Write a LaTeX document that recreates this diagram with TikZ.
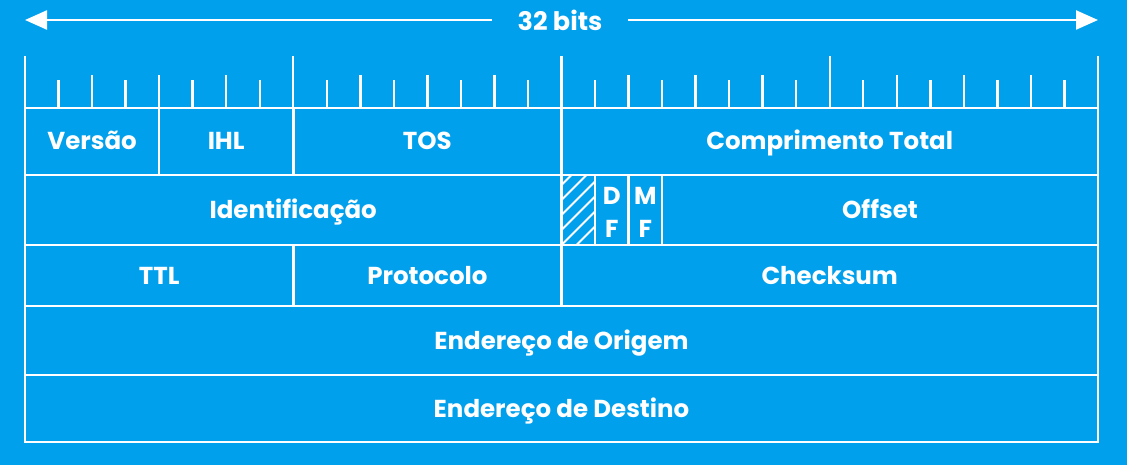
\documentclass[tikz,border=0pt]{standalone}
\usepackage{fontspec}
\setmainfont{Poppins}
\usetikzlibrary{positioning}
\usetikzlibrary{arrows.meta}
\usetikzlibrary{calc}
\definecolor{ipblue}{RGB}{0,160,237}

\begin{document}
\begin{tikzpicture}[x=1pt, y=-1pt, node distance=0pt,
    field/.style={draw=white, line width=2.6pt, inner sep=0pt, outer sep=0pt,
        minimum width=#1*33.53pt, text=white, align=center,
        text height=17pt, text depth=0pt,
        font=\bfseries\fontsize{24.5}{33}\selectfont},
    flag/.style={text height=54pt},
    tick/.style={draw=white, line width=2.4pt},
    span/.style={draw=white, line width=2.4pt, -{Triangle[length=22pt, width=19pt]}}]
    \useasboundingbox[fill=ipblue] (0,0) rectangle (1127,465);

    % width of the header
    \node[text=white, font=\bfseries\fontsize{25.5}{28}\selectfont, inner xsep=25pt] (bits) at (560,20) {32 bits};
    \coordinate (leftend) at (25,20);
    \coordinate (rightend) at (1098,20);
    \draw[span] (bits.west) -- (leftend);
    \draw[span] (bits.east) -- (rightend);

    % bit ruler
    \foreach \i in {0,...,32} {
        \pgfmathsetmacro{\top}{ifthenelse(mod(\i,8)==0, 56, ifthenelse(mod(\i,2)==0, 75, 80))}
        \draw[tick] (25+\i*33.53,108) -- (25+\i*33.53,\top);
    }

    % first row
    \node[field=4, minimum height=67pt, anchor=north west] (versao) at (25,108) {Versão};
    \node[field=4, minimum height=67pt, right=of versao] (ihl) {IHL};
    \node[field=8, minimum height=67pt, right=of ihl] (tos) {TOS};
    \node[field=16, minimum height=67pt, right=of tos] (comp) {Comprimento Total};

    % second row
    \node[field=16, minimum height=70pt, below=of versao.south west, anchor=north west] (ident) {Identificação};
    \node[field=1, minimum height=70pt, right=of ident] (pad) {};
    \node[field=1, flag, minimum height=70pt, right=of pad] (df) {D\\F};
    \node[field=1, flag, minimum height=70pt, right=of df] (mf) {M\\F};
    \node[field=13, minimum height=70pt, right=of mf] (offset) {Offset};

    % reserved bit
    \begin{scope}
        \clip (pad.south west) rectangle (pad.north east);
        \foreach \k in {-1,...,6}
            \draw[white, line width=1.8pt] ($(pad.south west)+(0,-\k*15)$) -- ++(80,-80);
    \end{scope}

    % third row
    \node[field=8, minimum height=61pt, below=of ident.south west, anchor=north west] (ttl) {TTL};
    \node[field=8, minimum height=61pt, right=of ttl] (proto) {Protocolo};
    \node[field=16, minimum height=61pt, right=of proto] (check) {Checksum};

    % addresses
    \node[field=32, minimum height=69pt, below=of ttl.south west, anchor=north west] (orig) {Endereço de Origem};
    \node[field=32, minimum height=67pt, below=of orig] (dest) {Endereço de Destino};
\end{tikzpicture}
\end{document}
